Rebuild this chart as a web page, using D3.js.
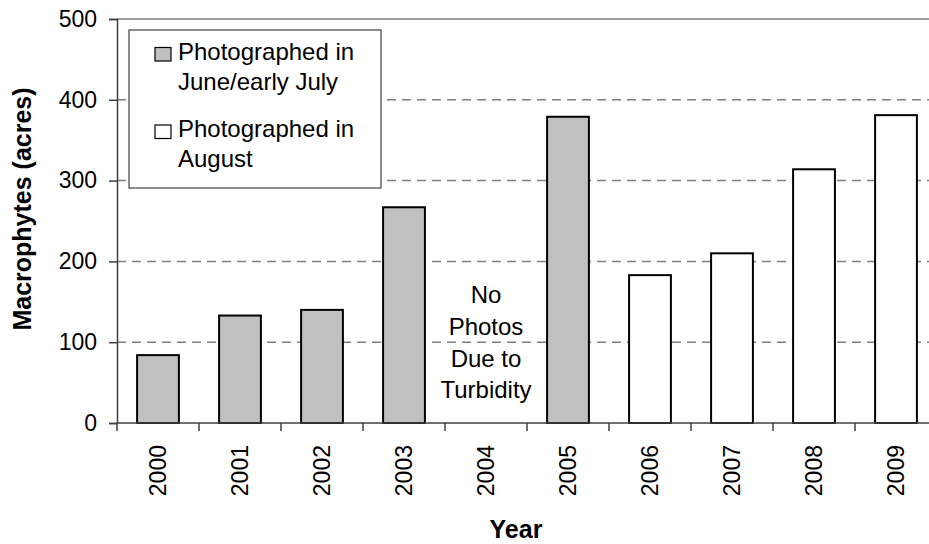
<!DOCTYPE html>
<html>
<head>
<meta charset="utf-8">
<script src="https://cdn.jsdelivr.net/npm/d3@7"></script>
<style>
  body { margin: 0; background: #fff; }
  svg { display: block; font-family: "Liberation Sans", Arial, sans-serif; }
</style>
</head>
<body>
<div id="chart"></div>
<script>
"use strict";

// data
const years = ["2000","2001","2002","2003","2004","2005","2006","2007","2008","2009"];
const acres = [84, 133, 140, 267, null, 379, 183, 210, 314, 381];
const season = ["june","june","june","june", null, "june","aug","aug","aug","aug"];
const yTicks = [0, 100, 200, 300, 400, 500];
const legendItems = [
  { key: "june", lines: ["Photographed in", "June/early July"] },
  { key: "aug",  lines: ["Photographed in", "August"] }
];
const noteLines = ["No", "Photos", "Due to", "Turbidity"];

const width = 929, height = 544;
const plotL = 117, plotR = 937, plotT = 19, plotB = 423;
const fills = { june: "#c0c0c0", aug: "#ffffff" };

const svg = d3.select("#chart").append("svg")
  .attr("width", width).attr("height", height);

const x = d3.scaleBand().domain(years).range([plotL, plotR]).paddingInner(0.49).paddingOuter(0.245);
const xEdge = d3.scaleLinear().domain([0, years.length]).range([plotL, plotR]);
const y = d3.scaleLinear().domain([0, 500]).range([plotB, plotT]);

// gridlines
svg.append("g")
  .selectAll("line")
  .data(yTicks.filter(d => d > 0 && d < 500))
  .join("line")
    .attr("x1", plotL).attr("x2", width)
    .attr("y1", d => y(d)).attr("y2", d => y(d))
    .attr("stroke", "#808080")
    .attr("stroke-width", 1.5)
    .attr("stroke-dasharray", "9,6");

svg.append("line")
  .attr("x1", plotL).attr("x2", width)
  .attr("y1", y(500)).attr("y2", y(500))
  .attr("stroke", "#808080").attr("stroke-width", 1.5);

// bars
const rows = years.map((yr, i) => ({ year: yr, v: acres[i], s: season[i] }));
svg.append("g")
  .selectAll("rect")
  .data(rows.filter(d => d.v != null))
  .join("rect")
    .attr("x", d => x(d.year))
    .attr("width", x.bandwidth())
    .attr("y", d => y(d.v))
    .attr("height", d => y(0) - y(d.v))
    .attr("fill", d => fills[d.s])
    .attr("stroke", "#000")
    .attr("stroke-width", 2);

// y axis
const yAxis = svg.append("g")
  .attr("transform", `translate(${plotL},0)`)
  .call(d3.axisLeft(y).tickValues(yTicks).tickSize(8).tickPadding(12));
yAxis.select(".domain").attr("stroke", "#404040").attr("stroke-width", 1.5);
yAxis.selectAll(".tick line").attr("stroke", "#404040").attr("stroke-width", 1.5);
yAxis.selectAll(".tick text")
  .attr("font-size", 23).attr("fill", "#000")
  .attr("font-family", "Liberation Sans, Arial, sans-serif");

// x axis line + ticks at band edges
svg.append("line")
  .attr("x1", plotL).attr("x2", width)
  .attr("y1", plotB).attr("y2", plotB)
  .attr("stroke", "#404040").attr("stroke-width", 1.5);
svg.append("g")
  .selectAll("line")
  .data(d3.range(years.length + 1))
  .join("line")
    .attr("x1", d => xEdge(d)).attr("x2", d => xEdge(d))
    .attr("y1", plotB).attr("y2", plotB + 8)
    .attr("stroke", "#404040").attr("stroke-width", 1.5);

// rotated year labels
svg.append("g")
  .selectAll("text")
  .data(years)
  .join("text")
    .attr("transform", d => `translate(${x(d) + x.bandwidth() / 2 + 8},445) rotate(-90)`)
    .attr("text-anchor", "end")
    .attr("font-size", 23)
    .text(d => d);

// axis titles
svg.append("text")
  .attr("transform", "translate(31,209) rotate(-90)")
  .attr("text-anchor", "middle")
  .attr("font-size", 25).attr("font-weight", "bold")
  .text("Macrophytes (acres)");

svg.append("text")
  .attr("x", 516).attr("y", 538)
  .attr("text-anchor", "middle")
  .attr("font-size", 25).attr("font-weight", "bold")
  .text("Year");

// note for 2004
svg.append("text")
  .attr("text-anchor", "middle")
  .attr("font-size", 24)
  .selectAll("tspan")
  .data(noteLines)
  .join("tspan")
    .attr("x", x("2004") + x.bandwidth() / 2)
    .attr("y", (d, i) => 303 + i * 31.8)
    .text(d => d);

// legend
const lg = svg.append("g");
lg.append("rect")
  .attr("x", 129).attr("y", 30).attr("width", 252).attr("height", 158)
  .attr("fill", "#fff").attr("stroke", "#404040").attr("stroke-width", 1.2);

const item = lg.selectAll("g.item")
  .data(legendItems)
  .join("g")
    .attr("class", "item")
    .attr("transform", (d, i) => `translate(0,${i * 77.5})`);
item.append("rect")
  .attr("x", 155).attr("y", 47.5).attr("width", 16).attr("height", 13.5)
  .attr("fill", d => fills[d.key]).attr("stroke", "#000").attr("stroke-width", 1.2);
item.append("text")
  .attr("font-size", 24)
  .selectAll("tspan")
  .data(d => d.lines)
  .join("tspan")
    .attr("x", 178)
    .attr("y", (d, i) => 59.5 + i * 30)
    .text(d => d);
</script>
</body>
</html>
